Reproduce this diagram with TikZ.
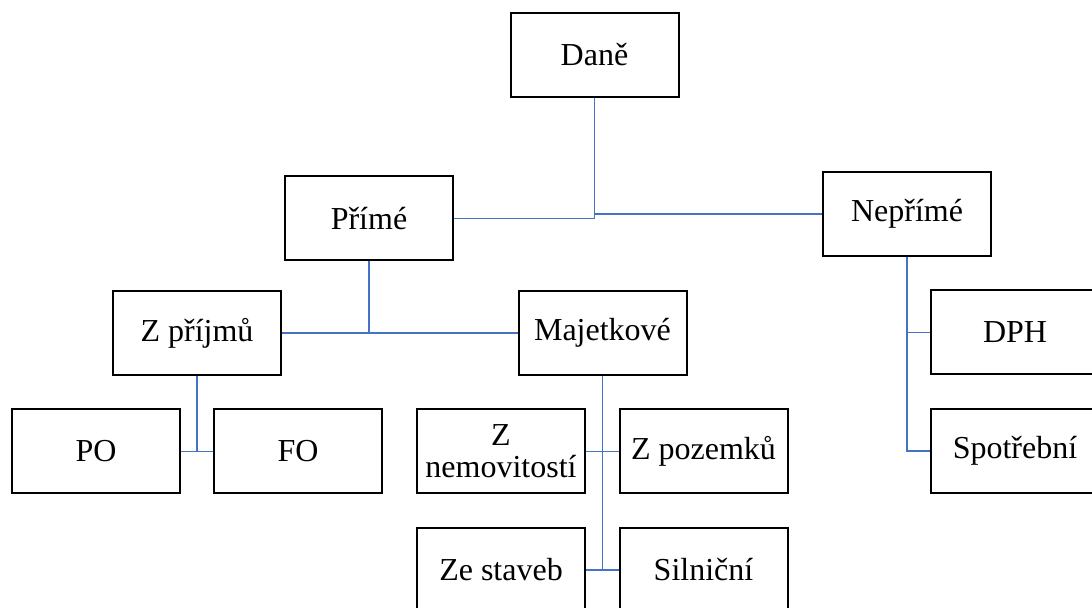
\documentclass[tikz,border=0pt]{standalone}
\usepackage{fontspec}
\setmainfont{Liberation Serif}
\definecolor{linkblue}{RGB}{68,114,196}
\begin{document}
\begin{tikzpicture}[x=0.5pt,y=-0.5pt,
box/.style ={rectangle, draw=black, line width=1pt, fill=white,
  minimum width=84pt, minimum height=42pt, inner sep=1pt,
  align=center, font=\fontsize{16}{16}\selectfont
},
link/.style ={draw=linkblue, line width=0.9pt}]
\useasboundingbox (0,0) rectangle (1092,608);

\node (dane) at (594.5,55) [box] {Daně};

\node (prime) at (369,218.5) [box] {Přímé};
\node (neprime) at (907,214) [box] {Nepřímé};

\node (zprijmu) at (197,333) [box] {Z příjmů};
\node (majetkove) at (602.5,333) [box] {Majetkové};
\node (dph) at (1015,332.5) [box] {DPH};
\node (spotrebni) at (1015,451) [box] {Spotřební};

\node (po) at (96,451.5) [box] {PO};
\node (fo) at (298,451.5) [box] {FO};
\node (znem) at (501,451.5) [box] {Z\\nemovitostí};
\node (zpoz) at (703.5,451.5) [box] {Z pozemků};
\node (zestaveb) at (501,570) [box] {Ze staveb};
\node (silnicni) at (703.5,570) [box] {Silniční};

% spojnice
\draw[link] (dane.south) |- (prime.east);
\draw[link] (dane.south |- neprime.west) -- (neprime.west);

\draw[link] (prime.south) -- (prime.south |- zprijmu.east);
\draw[link] (zprijmu.east) -- (majetkove.west);

\draw[link] (neprime.south) |- (spotrebni.west);
\draw[link] (neprime.south |- dph.west) -- (dph.west);

\draw[link] (zprijmu.south) -- (zprijmu.south |- po.east);
\draw[link] (po.east) -- (fo.west);

\draw[link] (majetkove.south) -- (majetkove.south |- zestaveb.east);
\draw[link] (znem.east) -- (zpoz.west);
\draw[link] (zestaveb.east) -- (silnicni.west);

\end{tikzpicture}
\end{document}
